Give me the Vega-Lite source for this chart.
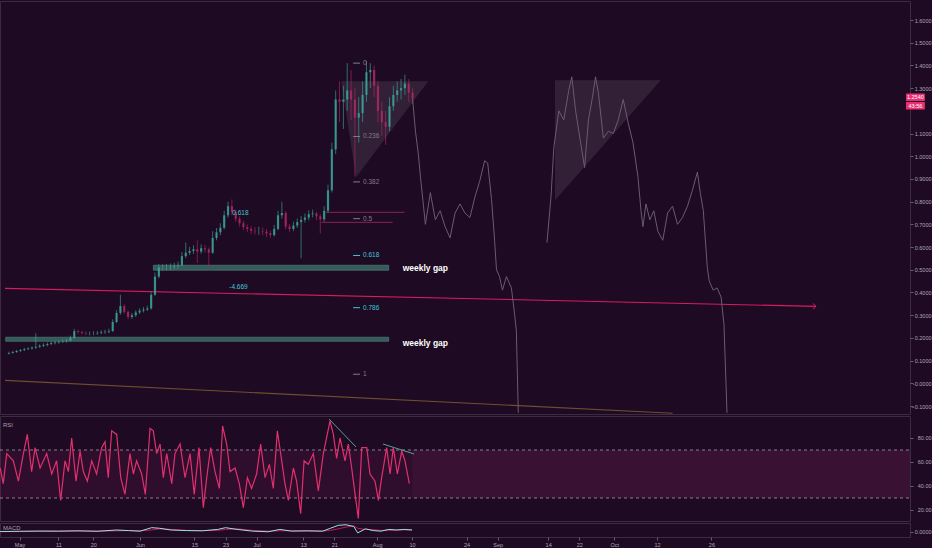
{
  "$schema": "https://vega.github.io/schema/vega-lite/v6.json",
  "background": "#1e0a22",
  "padding": {"left": -3, "top": 0, "right": 0, "bottom": 0},
  "spacing": 2,
  "bounds": "flush",
  "config": {
    "view": {"stroke": "#3b2c42", "strokeWidth": 1},
    "axis": {"labelFont": "Liberation Sans", "labelFontSize": 5.5, "labelColor": "#b0a6b6", "tickColor": "#6a5a70", "tickSize": 3, "domain": false, "grid": false, "labelPadding": 2},
    "axisY": {"labelAlign": "right", "labelPadding": 18},
    "text": {"font": "Liberation Sans"}
  },
  "datasets": {
    "candles": [
      {"t":"2020-04-27T00:00","o":0.130,"c":0.134,"h":0.139,"l":0.127},
      {"t":"2020-04-28T00:00","o":0.134,"c":0.138,"h":0.143,"l":0.131},
      {"t":"2020-04-29T00:00","o":0.138,"c":0.142,"h":0.147,"l":0.134},
      {"t":"2020-04-30T00:00","o":0.142,"c":0.146,"h":0.151,"l":0.138},
      {"t":"2020-05-01T00:00","o":0.146,"c":0.150,"h":0.156,"l":0.142},
      {"t":"2020-05-02T00:00","o":0.150,"c":0.153,"h":0.159,"l":0.146},
      {"t":"2020-05-03T00:00","o":0.153,"c":0.157,"h":0.163,"l":0.149},
      {"t":"2020-05-04T00:00","o":0.157,"c":0.161,"h":0.220,"l":0.152},
      {"t":"2020-05-05T00:00","o":0.161,"c":0.165,"h":0.172,"l":0.156},
      {"t":"2020-05-06T00:00","o":0.165,"c":0.169,"h":0.176,"l":0.160},
      {"t":"2020-05-07T00:00","o":0.169,"c":0.173,"h":0.180,"l":0.163},
      {"t":"2020-05-08T00:00","o":0.173,"c":0.177,"h":0.184,"l":0.168},
      {"t":"2020-05-09T00:00","o":0.177,"c":0.180,"h":0.187,"l":0.171},
      {"t":"2020-05-10T00:00","o":0.180,"c":0.183,"h":0.190,"l":0.174},
      {"t":"2020-05-11T00:00","o":0.183,"c":0.185,"h":0.193,"l":0.177},
      {"t":"2020-05-12T00:00","o":0.185,"c":0.188,"h":0.196,"l":0.179},
      {"t":"2020-05-13T00:00","o":0.188,"c":0.200,"h":0.210,"l":0.183},
      {"t":"2020-05-14T00:00","o":0.200,"c":0.230,"h":0.240,"l":0.196},
      {"t":"2020-05-15T00:00","o":0.230,"c":0.226,"h":0.236,"l":0.218},
      {"t":"2020-05-16T00:00","o":0.226,"c":0.222,"h":0.231,"l":0.214},
      {"t":"2020-05-17T00:00","o":0.222,"c":0.220,"h":0.229,"l":0.212},
      {"t":"2020-05-18T00:00","o":0.220,"c":0.220,"h":0.228,"l":0.211},
      {"t":"2020-05-19T00:00","o":0.220,"c":0.220,"h":0.229,"l":0.212},
      {"t":"2020-05-20T00:00","o":0.220,"c":0.222,"h":0.231,"l":0.213},
      {"t":"2020-05-21T00:00","o":0.222,"c":0.225,"h":0.234,"l":0.216},
      {"t":"2020-05-22T00:00","o":0.225,"c":0.227,"h":0.236,"l":0.218},
      {"t":"2020-05-23T00:00","o":0.227,"c":0.230,"h":0.240,"l":0.220},
      {"t":"2020-05-24T00:00","o":0.230,"c":0.270,"h":0.282,"l":0.226},
      {"t":"2020-05-25T00:00","o":0.270,"c":0.310,"h":0.322,"l":0.265},
      {"t":"2020-05-26T00:00","o":0.310,"c":0.340,"h":0.390,"l":0.302},
      {"t":"2020-05-27T00:00","o":0.340,"c":0.315,"h":0.348,"l":0.305},
      {"t":"2020-05-28T00:00","o":0.315,"c":0.292,"h":0.320,"l":0.282},
      {"t":"2020-05-29T00:00","o":0.292,"c":0.300,"h":0.310,"l":0.284},
      {"t":"2020-05-30T00:00","o":0.300,"c":0.312,"h":0.322,"l":0.292},
      {"t":"2020-05-31T00:00","o":0.312,"c":0.320,"h":0.330,"l":0.305},
      {"t":"2020-06-01T00:00","o":0.320,"c":0.325,"h":0.336,"l":0.312},
      {"t":"2020-06-02T00:00","o":0.325,"c":0.330,"h":0.342,"l":0.318},
      {"t":"2020-06-03T00:00","o":0.330,"c":0.390,"h":0.405,"l":0.324},
      {"t":"2020-06-04T00:00","o":0.390,"c":0.470,"h":0.488,"l":0.385},
      {"t":"2020-06-05T00:00","o":0.470,"c":0.510,"h":0.525,"l":0.462},
      {"t":"2020-06-06T00:00","o":0.510,"c":0.510,"h":0.524,"l":0.496},
      {"t":"2020-06-07T00:00","o":0.510,"c":0.510,"h":0.526,"l":0.497},
      {"t":"2020-06-08T00:00","o":0.510,"c":0.513,"h":0.528,"l":0.498},
      {"t":"2020-06-09T00:00","o":0.513,"c":0.516,"h":0.531,"l":0.501},
      {"t":"2020-06-10T00:00","o":0.516,"c":0.520,"h":0.536,"l":0.504},
      {"t":"2020-06-11T00:00","o":0.520,"c":0.560,"h":0.578,"l":0.514},
      {"t":"2020-06-12T00:00","o":0.560,"c":0.575,"h":0.620,"l":0.552},
      {"t":"2020-06-13T00:00","o":0.575,"c":0.583,"h":0.601,"l":0.565},
      {"t":"2020-06-14T00:00","o":0.583,"c":0.590,"h":0.608,"l":0.570},
      {"t":"2020-06-15T00:00","o":0.590,"c":0.580,"h":0.630,"l":0.530},
      {"t":"2020-06-16T00:00","o":0.580,"c":0.595,"h":0.612,"l":0.571},
      {"t":"2020-06-17T00:00","o":0.595,"c":0.590,"h":0.610,"l":0.575},
      {"t":"2020-06-18T00:00","o":0.590,"c":0.575,"h":0.598,"l":0.510},
      {"t":"2020-06-19T00:00","o":0.575,"c":0.640,"h":0.670,"l":0.570},
      {"t":"2020-06-20T00:00","o":0.640,"c":0.665,"h":0.684,"l":0.630},
      {"t":"2020-06-21T00:00","o":0.665,"c":0.685,"h":0.705,"l":0.652},
      {"t":"2020-06-22T00:00","o":0.685,"c":0.740,"h":0.760,"l":0.678},
      {"t":"2020-06-23T00:00","o":0.740,"c":0.780,"h":0.800,"l":0.730},
      {"t":"2020-06-24T00:00","o":0.780,"c":0.755,"h":0.810,"l":0.740},
      {"t":"2020-06-25T00:00","o":0.755,"c":0.725,"h":0.765,"l":0.710},
      {"t":"2020-06-26T00:00","o":0.725,"c":0.705,"h":0.735,"l":0.690},
      {"t":"2020-06-27T00:00","o":0.705,"c":0.688,"h":0.716,"l":0.674},
      {"t":"2020-06-28T00:00","o":0.688,"c":0.680,"h":0.700,"l":0.666},
      {"t":"2020-06-29T00:00","o":0.680,"c":0.672,"h":0.692,"l":0.658},
      {"t":"2020-06-30T00:00","o":0.672,"c":0.670,"h":0.688,"l":0.655},
      {"t":"2020-07-01T00:00","o":0.670,"c":0.670,"h":0.690,"l":0.654},
      {"t":"2020-07-02T00:00","o":0.670,"c":0.668,"h":0.686,"l":0.652},
      {"t":"2020-07-03T00:00","o":0.668,"c":0.660,"h":0.680,"l":0.645},
      {"t":"2020-07-04T00:00","o":0.660,"c":0.653,"h":0.672,"l":0.640},
      {"t":"2020-07-05T00:00","o":0.653,"c":0.680,"h":0.698,"l":0.646},
      {"t":"2020-07-06T00:00","o":0.680,"c":0.740,"h":0.760,"l":0.674},
      {"t":"2020-07-07T00:00","o":0.740,"c":0.750,"h":0.800,"l":0.725},
      {"t":"2020-07-08T00:00","o":0.750,"c":0.690,"h":0.758,"l":0.678},
      {"t":"2020-07-09T00:00","o":0.690,"c":0.680,"h":0.702,"l":0.665},
      {"t":"2020-07-10T00:00","o":0.680,"c":0.695,"h":0.712,"l":0.670},
      {"t":"2020-07-11T00:00","o":0.695,"c":0.710,"h":0.726,"l":0.684},
      {"t":"2020-07-12T00:00","o":0.710,"c":0.720,"h":0.738,"l":0.550},
      {"t":"2020-07-13T00:00","o":0.720,"c":0.730,"h":0.748,"l":0.708},
      {"t":"2020-07-14T00:00","o":0.730,"c":0.745,"h":0.762,"l":0.718},
      {"t":"2020-07-15T00:00","o":0.745,"c":0.748,"h":0.765,"l":0.730},
      {"t":"2020-07-16T00:00","o":0.748,"c":0.735,"h":0.756,"l":0.718},
      {"t":"2020-07-17T00:00","o":0.735,"c":0.722,"h":0.745,"l":0.660},
      {"t":"2020-07-18T00:00","o":0.722,"c":0.760,"h":0.780,"l":0.712},
      {"t":"2020-07-19T00:00","o":0.760,"c":0.850,"h":0.875,"l":0.750},
      {"t":"2020-07-20T00:00","o":0.850,"c":1.030,"h":1.060,"l":0.840},
      {"t":"2020-07-21T00:00","o":1.030,"c":1.250,"h":1.290,"l":1.010},
      {"t":"2020-07-22T00:00","o":1.250,"c":1.240,"h":1.330,"l":1.150},
      {"t":"2020-07-23T00:00","o":1.240,"c":1.250,"h":1.310,"l":1.120},
      {"t":"2020-07-24T00:00","o":1.250,"c":1.290,"h":1.410,"l":1.200},
      {"t":"2020-07-25T00:00","o":1.290,"c":1.250,"h":1.380,"l":1.160},
      {"t":"2020-07-26T00:00","o":1.250,"c":1.170,"h":1.300,"l":0.910},
      {"t":"2020-07-27T00:00","o":1.170,"c":1.190,"h":1.260,"l":1.060},
      {"t":"2020-07-28T00:00","o":1.190,"c":1.270,"h":1.330,"l":1.150},
      {"t":"2020-07-29T00:00","o":1.270,"c":1.370,"h":1.420,"l":1.240},
      {"t":"2020-07-30T00:00","o":1.370,"c":1.380,"h":1.410,"l":1.300},
      {"t":"2020-07-31T00:00","o":1.380,"c":1.310,"h":1.400,"l":1.260},
      {"t":"2020-08-01T00:00","o":1.310,"c":1.200,"h":1.330,"l":1.150},
      {"t":"2020-08-02T00:00","o":1.200,"c":1.150,"h":1.240,"l":1.090},
      {"t":"2020-08-03T00:00","o":1.150,"c":1.130,"h":1.200,"l":1.050},
      {"t":"2020-08-04T00:00","o":1.130,"c":1.220,"h":1.260,"l":1.110},
      {"t":"2020-08-05T00:00","o":1.220,"c":1.270,"h":1.310,"l":1.200},
      {"t":"2020-08-06T00:00","o":1.270,"c":1.290,"h":1.330,"l":1.240},
      {"t":"2020-08-07T00:00","o":1.290,"c":1.300,"h":1.340,"l":1.250},
      {"t":"2020-08-08T00:00","o":1.300,"c":1.320,"h":1.360,"l":1.270},
      {"t":"2020-08-09T00:00","o":1.320,"c":1.280,"h":1.340,"l":1.240},
      {"t":"2020-08-10T00:00","o":1.280,"c":1.254,"h":1.300,"l":1.230}
    ],
    "proj": [
      {"seg":1,"t":"2020-08-10T00:00","v":1.254},
      {"seg":1,"t":"2020-08-10T18:00","v":1.11},
      {"seg":1,"t":"2020-08-11T12:00","v":1.01},
      {"seg":1,"t":"2020-08-12T01:00","v":0.91},
      {"seg":1,"t":"2020-08-12T19:00","v":0.79},
      {"seg":1,"t":"2020-08-13T08:00","v":0.70},
      {"seg":1,"t":"2020-08-14T15:00","v":0.84},
      {"seg":1,"t":"2020-08-15T22:00","v":0.72},
      {"seg":1,"t":"2020-08-17T04:00","v":0.76},
      {"seg":1,"t":"2020-08-18T11:00","v":0.69},
      {"seg":1,"t":"2020-08-19T18:00","v":0.64},
      {"seg":1,"t":"2020-08-21T01:00","v":0.75},
      {"seg":1,"t":"2020-08-22T08:00","v":0.79},
      {"seg":1,"t":"2020-08-23T15:00","v":0.75},
      {"seg":1,"t":"2020-08-24T22:00","v":0.73},
      {"seg":1,"t":"2020-08-26T05:00","v":0.82},
      {"seg":1,"t":"2020-08-27T11:00","v":0.89},
      {"seg":1,"t":"2020-08-28T18:00","v":0.98},
      {"seg":1,"t":"2020-08-29T13:00","v":0.97},
      {"seg":1,"t":"2020-08-30T13:00","v":0.81},
      {"seg":1,"t":"2020-08-31T08:00","v":0.63},
      {"seg":1,"t":"2020-08-31T20:00","v":0.50},
      {"seg":1,"t":"2020-09-01T15:00","v":0.47},
      {"seg":1,"t":"2020-09-02T09:00","v":0.41},
      {"seg":1,"t":"2020-09-03T10:00","v":0.47},
      {"seg":1,"t":"2020-09-04T17:00","v":0.42},
      {"seg":1,"t":"2020-09-05T12:00","v":0.31},
      {"seg":1,"t":"2020-09-06T00:00","v":0.23},
      {"seg":1,"t":"2020-09-06T12:00","v":-0.13},
      {"seg":2,"t":"2020-09-13T23:00","v":0.62},
      {"seg":2,"t":"2020-09-15T00:00","v":0.82},
      {"seg":2,"t":"2020-09-15T18:00","v":1.04},
      {"seg":2,"t":"2020-09-17T01:00","v":1.20},
      {"seg":2,"t":"2020-09-18T08:00","v":1.16},
      {"seg":2,"t":"2020-09-19T15:00","v":1.29},
      {"seg":2,"t":"2020-09-20T10:00","v":1.35},
      {"seg":2,"t":"2020-09-21T10:00","v":1.20},
      {"seg":2,"t":"2020-09-22T17:00","v":1.06},
      {"seg":2,"t":"2020-09-23T18:00","v":0.95},
      {"seg":2,"t":"2020-09-24T18:00","v":1.16},
      {"seg":2,"t":"2020-09-25T19:00","v":1.26},
      {"seg":2,"t":"2020-09-26T14:00","v":1.35},
      {"seg":2,"t":"2020-09-27T08:00","v":1.28},
      {"seg":2,"t":"2020-09-28T15:00","v":1.08},
      {"seg":2,"t":"2020-09-29T22:00","v":1.11},
      {"seg":2,"t":"2020-10-01T05:00","v":1.10},
      {"seg":2,"t":"2020-10-02T12:00","v":1.16},
      {"seg":2,"t":"2020-10-03T19:00","v":1.25},
      {"seg":2,"t":"2020-10-05T01:00","v":1.15},
      {"seg":2,"t":"2020-10-06T08:00","v":1.06},
      {"seg":2,"t":"2020-10-07T15:00","v":0.91},
      {"seg":2,"t":"2020-10-08T10:00","v":0.76},
      {"seg":2,"t":"2020-10-08T22:00","v":0.69},
      {"seg":2,"t":"2020-10-09T17:00","v":0.79},
      {"seg":2,"t":"2020-10-10T17:00","v":0.72},
      {"seg":2,"t":"2020-10-11T18:00","v":0.76},
      {"seg":2,"t":"2020-10-12T19:00","v":0.67},
      {"seg":2,"t":"2020-10-14T02:00","v":0.63},
      {"seg":2,"t":"2020-10-15T08:00","v":0.75},
      {"seg":2,"t":"2020-10-16T15:00","v":0.78},
      {"seg":2,"t":"2020-10-17T22:00","v":0.70},
      {"seg":2,"t":"2020-10-19T05:00","v":0.73},
      {"seg":2,"t":"2020-10-20T12:00","v":0.78},
      {"seg":2,"t":"2020-10-21T19:00","v":0.85},
      {"seg":2,"t":"2020-10-23T02:00","v":0.93},
      {"seg":2,"t":"2020-10-23T20:00","v":0.84},
      {"seg":2,"t":"2020-10-24T15:00","v":0.76},
      {"seg":2,"t":"2020-10-25T16:00","v":0.51},
      {"seg":2,"t":"2020-10-26T04:00","v":0.45},
      {"seg":2,"t":"2020-10-27T05:00","v":0.41},
      {"seg":2,"t":"2020-10-28T05:00","v":0.42},
      {"seg":2,"t":"2020-10-29T06:00","v":0.38},
      {"seg":2,"t":"2020-10-30T00:00","v":0.26},
      {"seg":2,"t":"2020-10-30T19:00","v":-0.13}
    ],
    "tri": [
      {"id":1,"t":"2020-07-22T11:00","v":1.33,"v2":1.33},
      {"id":1,"t":"2020-07-26T07:00","v":1.33,"v2":0.907},
      {"id":1,"t":"2020-08-14T02:00","v":1.33,"v2":1.33},
      {"id":2,"t":"2020-09-16T01:00","v":1.335,"v2":0.806},
      {"id":2,"t":"2020-10-13T13:00","v":1.335,"v2":1.335}
    ],
    "gaps": [
      {"t":"2020-06-03T14:00","t2":"2020-08-03T19:00","v":0.498,"v2":0.52},
      {"t":"2020-04-26T04:00","t2":"2020-08-03T19:00","v":0.185,"v2":0.203}
    ],
    "trend": [
      {"id":"p","t":"2020-04-25T23:35","v":0.418},
      {"id":"p","t":"2020-11-22T23:00","v":0.339},
      {"id":"b","t":"2020-04-25T23:35","v":0.013},
      {"id":"b","t":"2020-10-16T15:00","v":-0.132}
    ],
    "arrow": [{"t":"2020-11-22T23:00","v":0.339}],
    "half": [
      {"t":"2020-07-18T14:00","t2":"2020-08-07T22:00","v":0.753},
      {"t":"2020-07-17T07:00","t2":"2020-08-04T20:00","v":0.709}
    ],
    "fib": [
      {"lvl":"0","v":1.41,"t":"2020-07-25T13:00","t2":"2020-07-27T08:00","tl":"2020-07-28T03:00"},
      {"lvl":"0.236","v":1.087,"t":"2020-07-25T13:00","t2":"2020-07-27T08:00","tl":"2020-07-28T03:00"},
      {"lvl":"0.382","v":0.887,"t":"2020-07-25T13:00","t2":"2020-07-27T08:00","tl":"2020-07-28T03:00"},
      {"lvl":"0.5","v":0.725,"t":"2020-07-25T13:00","t2":"2020-07-27T08:00","tl":"2020-07-28T03:00"},
      {"lvl":"0.618","v":0.563,"t":"2020-07-25T13:00","t2":"2020-07-27T08:00","tl":"2020-07-28T03:00"},
      {"lvl":"0.786","v":0.333,"t":"2020-07-25T13:00","t2":"2020-07-27T08:00","tl":"2020-07-28T03:00"},
      {"lvl":"1","v":0.04,"t":"2020-07-25T13:00","t2":"2020-07-27T08:00","tl":"2020-07-28T03:00"}
    ],
    "notes": [
      {"k":"w","t":"2020-08-07T10:00","v":0.508,"s":"weekly gap"},
      {"k":"w","t":"2020-08-07T10:00","v":0.176,"s":"weekly gap"},
      {"k":"c","t":"2020-06-25T17:00","v":0.423,"s":"-4.669"},
      {"k":"c","t":"2020-06-26T05:00","v":0.749,"s":"0.618"}
    ],
    "tags": [
      {"t":"2020-12-16T08:40","t2":"2020-12-21T06:00","tc":"2020-12-18T19:00","v":1.2433,"v2":1.2763,"vc":1.2598,"s":"1.2540"},
      {"t":"2020-12-16T08:40","t2":"2020-12-21T06:00","tc":"2020-12-18T19:00","v":1.2059,"v2":1.2389,"vc":1.2224,"s":"43:56"}
    ],
    "rsi": [
      {"t":"2020-04-26T01:00","v":55},{"t":"2020-04-26T20:00","v":42},{"t":"2020-04-27T17:00","v":67},
      {"t":"2020-04-29T10:00","v":61},{"t":"2020-04-30T17:00","v":44},{"t":"2020-05-02T00:00","v":67},
      {"t":"2020-05-03T00:00","v":83},{"t":"2020-05-04T03:00","v":52},{"t":"2020-05-05T00:00","v":72},
      {"t":"2020-05-06T07:00","v":55},{"t":"2020-05-08T00:00","v":67},{"t":"2020-05-09T07:00","v":50},
      {"t":"2020-05-10T13:00","v":61},{"t":"2020-05-11T14:00","v":28},{"t":"2020-05-12T17:00","v":61},
      {"t":"2020-05-13T14:00","v":52},{"t":"2020-05-14T10:00","v":80},{"t":"2020-05-15T13:00","v":44},
      {"t":"2020-05-16T14:00","v":69},{"t":"2020-05-17T10:00","v":52},{"t":"2020-05-18T11:00","v":44},
      {"t":"2020-05-19T14:00","v":61},{"t":"2020-05-20T20:00","v":50},{"t":"2020-05-22T03:00","v":72},
      {"t":"2020-05-23T00:00","v":77},{"t":"2020-05-23T20:00","v":47},{"t":"2020-05-24T17:00","v":86},
      {"t":"2020-05-26T00:00","v":83},{"t":"2020-05-27T01:00","v":47},{"t":"2020-05-28T03:00","v":33},
      {"t":"2020-05-29T10:00","v":67},{"t":"2020-05-30T07:00","v":50},{"t":"2020-05-31T03:00","v":61},
      {"t":"2020-06-01T10:00","v":50},{"t":"2020-06-02T09:00","v":33},{"t":"2020-06-03T14:00","v":88},
      {"t":"2020-06-04T10:00","v":86},{"t":"2020-06-05T07:00","v":67},{"t":"2020-06-06T04:00","v":75},
      {"t":"2020-06-07T00:00","v":47},{"t":"2020-06-07T21:00","v":67},{"t":"2020-06-09T04:00","v":42},
      {"t":"2020-06-10T00:00","v":67},{"t":"2020-06-11T07:00","v":75},{"t":"2020-06-12T14:00","v":47},
      {"t":"2020-06-13T21:00","v":67},{"t":"2020-06-14T23:00","v":33},{"t":"2020-06-16T04:00","v":72},
      {"t":"2020-06-17T07:00","v":22},{"t":"2020-06-18T04:00","v":47},{"t":"2020-06-19T04:00","v":72},
      {"t":"2020-06-20T07:00","v":52},{"t":"2020-06-21T10:00","v":38},{"t":"2020-06-22T06:00","v":90},
      {"t":"2020-06-23T07:00","v":75},{"t":"2020-06-24T04:00","v":52},{"t":"2020-06-25T11:00","v":55},
      {"t":"2020-06-26T13:00","v":42},{"t":"2020-06-27T14:00","v":22},{"t":"2020-06-28T15:00","v":47},
      {"t":"2020-06-29T17:00","v":38},{"t":"2020-07-01T00:00","v":50},{"t":"2020-07-02T01:00","v":75},
      {"t":"2020-07-03T04:00","v":47},{"t":"2020-07-04T07:00","v":58},{"t":"2020-07-05T07:00","v":38},
      {"t":"2020-07-06T08:00","v":86},{"t":"2020-07-07T11:00","v":61},{"t":"2020-07-08T07:00","v":42},
      {"t":"2020-07-09T04:00","v":28},{"t":"2020-07-10T11:00","v":55},{"t":"2020-07-11T07:00","v":44},
      {"t":"2020-07-12T08:00","v":17},{"t":"2020-07-13T05:00","v":61},{"t":"2020-07-14T07:00","v":58},
      {"t":"2020-07-15T14:00","v":67},{"t":"2020-07-16T21:00","v":36},{"t":"2020-07-18T04:00","v":67},
      {"t":"2020-07-19T21:00","v":94},{"t":"2020-07-20T18:00","v":83},{"t":"2020-07-21T14:00","v":63},
      {"t":"2020-07-22T11:00","v":80},{"t":"2020-07-23T18:00","v":61},{"t":"2020-07-24T14:00","v":75},
      {"t":"2020-07-25T11:00","v":55},{"t":"2020-07-26T08:00","v":33},{"t":"2020-07-27T04:00","v":13},
      {"t":"2020-07-28T01:00","v":72},{"t":"2020-07-29T08:00","v":72},{"t":"2020-07-30T04:00","v":50},
      {"t":"2020-07-31T11:00","v":44},{"t":"2020-08-01T08:00","v":28},{"t":"2020-08-02T04:00","v":47},
      {"t":"2020-08-03T11:00","v":72},{"t":"2020-08-04T08:00","v":50},{"t":"2020-08-05T04:00","v":72},
      {"t":"2020-08-06T05:00","v":50},{"t":"2020-08-07T08:00","v":69},{"t":"2020-08-08T04:00","v":61},
      {"t":"2020-08-09T07:00","v":42}
    ],
    "div": [
      {"id":1,"t":"2020-07-19T15:00","v":95.8},
      {"id":1,"t":"2020-07-26T14:00","v":72.5},
      {"id":2,"t":"2020-08-02T12:00","v":75},
      {"id":2,"t":"2020-08-10T12:00","v":66.7}
    ],
    "band": [
      {"k":"past","t":"2020-04-25T23:35","t2":"2020-08-10T00:00","v":30,"v2":70},
      {"k":"future","t":"2020-08-10T00:00","t2":"2020-12-16T02:10","v":30,"v2":70}
    ],
    "lvls": [
      {"t":"2020-04-25T23:35","t2":"2020-12-16T02:10","v":70},
      {"t":"2020-04-25T23:35","t2":"2020-12-16T02:10","v":30}
    ],
    "rsilab": [{"t":"2020-04-26T18:00","v":90.8,"s":"RSI"}],
    "macd": [
      {"t":"2020-04-26T01:00","m":0.002,"s":0.001},
      {"t":"2020-05-01T00:00","m":0.004,"s":0.002},
      {"t":"2020-05-06T00:00","m":0.006,"s":0.004},
      {"t":"2020-05-11T00:00","m":0.005,"s":0.005},
      {"t":"2020-05-16T00:00","m":0.008,"s":0.006},
      {"t":"2020-05-21T00:00","m":0.004,"s":0.006},
      {"t":"2020-05-26T00:00","m":0.015,"s":0.008},
      {"t":"2020-05-29T00:00","m":0.010,"s":0.010},
      {"t":"2020-06-01T00:00","m":0.005,"s":0.008},
      {"t":"2020-06-04T00:00","m":0.035,"s":0.015},
      {"t":"2020-06-06T00:00","m":0.030,"s":0.025},
      {"t":"2020-06-09T00:00","m":0.015,"s":0.020},
      {"t":"2020-06-13T00:00","m":0.010,"s":0.012},
      {"t":"2020-06-17T00:00","m":0.008,"s":0.010},
      {"t":"2020-06-21T00:00","m":0.020,"s":0.012},
      {"t":"2020-06-23T00:00","m":0.035,"s":0.020},
      {"t":"2020-06-26T00:00","m":0.020,"s":0.025},
      {"t":"2020-06-30T00:00","m":0.005,"s":0.012},
      {"t":"2020-07-04T00:00","m":0.000,"s":0.005},
      {"t":"2020-07-07T00:00","m":0.020,"s":0.008},
      {"t":"2020-07-10T00:00","m":0.005,"s":0.010},
      {"t":"2020-07-14T00:00","m":0.008,"s":0.006},
      {"t":"2020-07-18T00:00","m":0.005,"s":0.006},
      {"t":"2020-07-20T00:00","m":0.030,"s":0.012},
      {"t":"2020-07-22T00:00","m":0.055,"s":0.025},
      {"t":"2020-07-24T00:00","m":0.060,"s":0.040},
      {"t":"2020-07-26T00:00","m":0.045,"s":0.050},
      {"t":"2020-07-27T00:00","m":-0.010,"s":0.030},
      {"t":"2020-07-29T00:00","m":0.025,"s":0.020},
      {"t":"2020-07-31T00:00","m":0.010,"s":0.018},
      {"t":"2020-08-02T00:00","m":0.005,"s":0.012},
      {"t":"2020-08-04T00:00","m":0.020,"s":0.012},
      {"t":"2020-08-06T00:00","m":0.015,"s":0.015},
      {"t":"2020-08-08T00:00","m":0.020,"s":0.016},
      {"t":"2020-08-10T00:00","m":0.015,"s":0.016}
    ],
    "macdlab": [{"t":"2020-04-26T18:00","v":0.032,"s":"MACD"}]
  },
  "vconcat": [
    {
      "width": 910,
      "height": 413,
      "encoding": {
        "x": {"field": "t", "type": "temporal", "title": null, "axis": null,
              "scale": {"domain": [{"year":2020,"month":4,"date":25,"hours":23,"minutes":35}, {"year":2020,"month":12,"date":16,"hours":2,"minutes":10}]}},
        "y": {"field": "v", "type": "quantitative", "title": null,
              "scale": {"domain": [-0.1352, 1.6837], "nice": false, "zero": false},
              "axis": {"orient": "right", "values": [-0.1,0,0.1,0.2,0.3,0.4,0.5,0.6,0.7,0.8,0.9,1,1.1,1.3,1.4,1.5,1.6],
                       "labelExpr": "datum.value == 0 ? '-0.0000' : format(datum.value, '.4f')"}}
      },
      "layer": [
        {"data": {"name": "tri"}, "mark": {"type": "area", "color": "#dfeeee", "opacity": 0.1, "interpolate": "linear"},
         "encoding": {"y2": {"field": "v2"}, "detail": {"field": "id"}}},
        {"data": {"name": "gaps"}, "mark": {"type": "rect", "fill": "#35605c", "stroke": "#5e8c86", "strokeWidth": 0.6, "opacity": 0.95},
         "encoding": {"x2": {"field": "t2"}, "y2": {"field": "v2"}}},
        {"data": {"name": "trend"}, "mark": {"type": "line", "strokeWidth": 1.1, "clip": true},
         "encoding": {"detail": {"field": "id"},
                      "color": {"field": "id", "type": "nominal", "legend": null, "scale": {"domain": ["p", "b"], "range": ["#d81b60", "#6e4f2e"]}}}},
        {"data": {"name": "arrow"}, "mark": {"type": "point", "shape": "M -1 -0.9 L 0 0 L -1 0.9", "size": 40, "filled": false, "stroke": "#d81b60", "strokeWidth": 1, "opacity": 1},
         "encoding": {}},
        {"data": {"name": "half"}, "mark": {"type": "rule", "color": "#8a2450", "strokeWidth": 1},
         "encoding": {"x2": {"field": "t2"}}},
        {"data": {"name": "candles"}, "mark": {"type": "rule", "strokeWidth": 0.8, "opacity": 0.8},
         "encoding": {"y": {"field": "l", "type": "quantitative", "title": null}, "y2": {"field": "h"},
                      "color": {"condition": {"test": "datum.c >= datum.o", "value": "#3aa69a"}, "value": "#b02862"}}},
        {"data": {"name": "candles"}, "mark": {"type": "bar", "size": 2.2, "opacity": 0.8},
         "encoding": {"y": {"field": "o", "type": "quantitative", "title": null}, "y2": {"field": "c"},
                      "color": {"condition": {"test": "datum.c >= datum.o", "value": "#3aa69a"}, "value": "#b02862"}}},
        {"data": {"name": "proj"}, "mark": {"type": "line", "color": "#6a5c6e", "strokeWidth": 1, "clip": true},
         "encoding": {"detail": {"field": "seg"}}},
        {"data": {"name": "fib"}, "mark": {"type": "rule", "strokeWidth": 1},
         "encoding": {"x2": {"field": "t2"},
                      "color": {"condition": {"test": "datum.lvl == '0.618' || datum.lvl == '0.786'", "value": "#3ec8d8"}, "value": "#857a8c"}}},
        {"data": {"name": "fib"}, "mark": {"type": "text", "align": "left", "baseline": "middle", "fontSize": 6.5},
         "encoding": {"x": {"field": "tl", "type": "temporal", "axis": null, "title": null},
                      "text": {"field": "lvl"},
                      "color": {"condition": {"test": "datum.lvl == '0.618' || datum.lvl == '0.786'", "value": "#3ec8d8"}, "value": "#857a8c"}}},
        {"data": {"name": "notes"}, "transform": [{"filter": "datum.k == 'w'"}],
         "mark": {"type": "text", "align": "left", "baseline": "middle", "fontSize": 8.5, "fontWeight": "bold", "color": "#ffffff"},
         "encoding": {"text": {"field": "s"}}},
        {"data": {"name": "notes"}, "transform": [{"filter": "datum.k == 'c'"}],
         "mark": {"type": "text", "align": "center", "baseline": "middle", "fontSize": 6.5, "color": "#3ec8d8"},
         "encoding": {"text": {"field": "s"}}},
        {"data": {"name": "tags"}, "mark": {"type": "rect", "fill": "#ec2f72", "clip": false},
         "encoding": {"x2": {"field": "t2"}, "y2": {"field": "v2"}}},
        {"data": {"name": "tags"}, "mark": {"type": "text", "align": "center", "baseline": "middle", "fontSize": 5.5, "color": "#ffffff"},
         "encoding": {"x": {"field": "tc", "type": "temporal", "axis": null, "title": null},
                      "y": {"field": "vc", "type": "quantitative", "title": null},
                      "text": {"field": "s"}}}
      ]
    },
    {
      "width": 910,
      "height": 105,
      "encoding": {
        "x": {"field": "t", "type": "temporal", "title": null, "axis": null,
              "scale": {"domain": [{"year":2020,"month":4,"date":25,"hours":23,"minutes":35}, {"year":2020,"month":12,"date":16,"hours":2,"minutes":10}]}},
        "y": {"field": "v", "type": "quantitative", "title": null,
              "scale": {"domain": [10.83, 98.33], "nice": false, "zero": false},
              "axis": {"orient": "right", "values": [20, 40, 60, 80], "format": ".2f"}}
      },
      "layer": [
        {"data": {"name": "band"}, "mark": {"type": "rect", "fill": "#5a1a48"},
         "encoding": {"x2": {"field": "t2"}, "y2": {"field": "v2"},
                      "opacity": {"condition": {"test": "datum.k == 'past'", "value": 0.28}, "value": 0.45}}},
        {"data": {"name": "lvls"}, "mark": {"type": "rule", "color": "#cfc6d2", "opacity": 0.6, "strokeDash": [3, 3], "strokeWidth": 1},
         "encoding": {"x2": {"field": "t2"}}},
        {"data": {"name": "rsi"}, "mark": {"type": "line", "color": "#e0306e", "strokeWidth": 1.2},
         "encoding": {}},
        {"data": {"name": "div"}, "mark": {"type": "line", "color": "#4fa3a0", "strokeWidth": 1},
         "encoding": {"detail": {"field": "id"}}},
        {"data": {"name": "rsilab"}, "mark": {"type": "text", "align": "left", "baseline": "middle", "fontSize": 6, "color": "#a89cae"},
         "encoding": {"text": {"field": "s"}}}
      ]
    },
    {
      "width": 910,
      "height": 14,
      "encoding": {
        "x": {"field": "t", "type": "temporal", "title": null,
              "scale": {"domain": [{"year":2020,"month":4,"date":25,"hours":23,"minutes":35}, {"year":2020,"month":12,"date":16,"hours":2,"minutes":10}]},
              "axis": {"values": [
                {"year":2020,"month":5,"date":1},{"year":2020,"month":5,"date":11},{"year":2020,"month":5,"date":20},
                {"year":2020,"month":6,"date":1},{"year":2020,"month":6,"date":15},{"year":2020,"month":6,"date":23},
                {"year":2020,"month":7,"date":1},{"year":2020,"month":7,"date":13},{"year":2020,"month":7,"date":21},
                {"year":2020,"month":8,"date":1},{"year":2020,"month":8,"date":10},{"year":2020,"month":8,"date":24},
                {"year":2020,"month":9,"date":1},{"year":2020,"month":9,"date":14},{"year":2020,"month":9,"date":22},
                {"year":2020,"month":10,"date":1},{"year":2020,"month":10,"date":12},{"year":2020,"month":10,"date":26}],
                "labelExpr": "date(datum.value) == 1 ? timeFormat(datum.value, '%b') : '' + date(datum.value)",
                "labelOverlap": false, "labelFlush": false, "labelPadding": 2}}
      },
      "layer": [
        {"data": {"name": "macd"}, "mark": {"type": "line", "color": "#c2185b", "strokeWidth": 1},
         "encoding": {"y": {"field": "s", "type": "quantitative", "title": null,
                            "scale": {"domain": [-0.045, 0.075], "nice": false, "zero": false},
                            "axis": {"orient": "right", "values": [0], "labelExpr": "'0.0000'"}}}},
        {"data": {"name": "macd"}, "mark": {"type": "line", "color": "#9fe0da", "strokeWidth": 1},
         "encoding": {"y": {"field": "m", "type": "quantitative", "title": null}}},
        {"data": {"name": "macdlab"}, "mark": {"type": "text", "align": "left", "baseline": "middle", "fontSize": 6, "color": "#a89cae"},
         "encoding": {"y": {"field": "v", "type": "quantitative", "title": null}, "text": {"field": "s"}}}
      ]
    }
  ]
}
